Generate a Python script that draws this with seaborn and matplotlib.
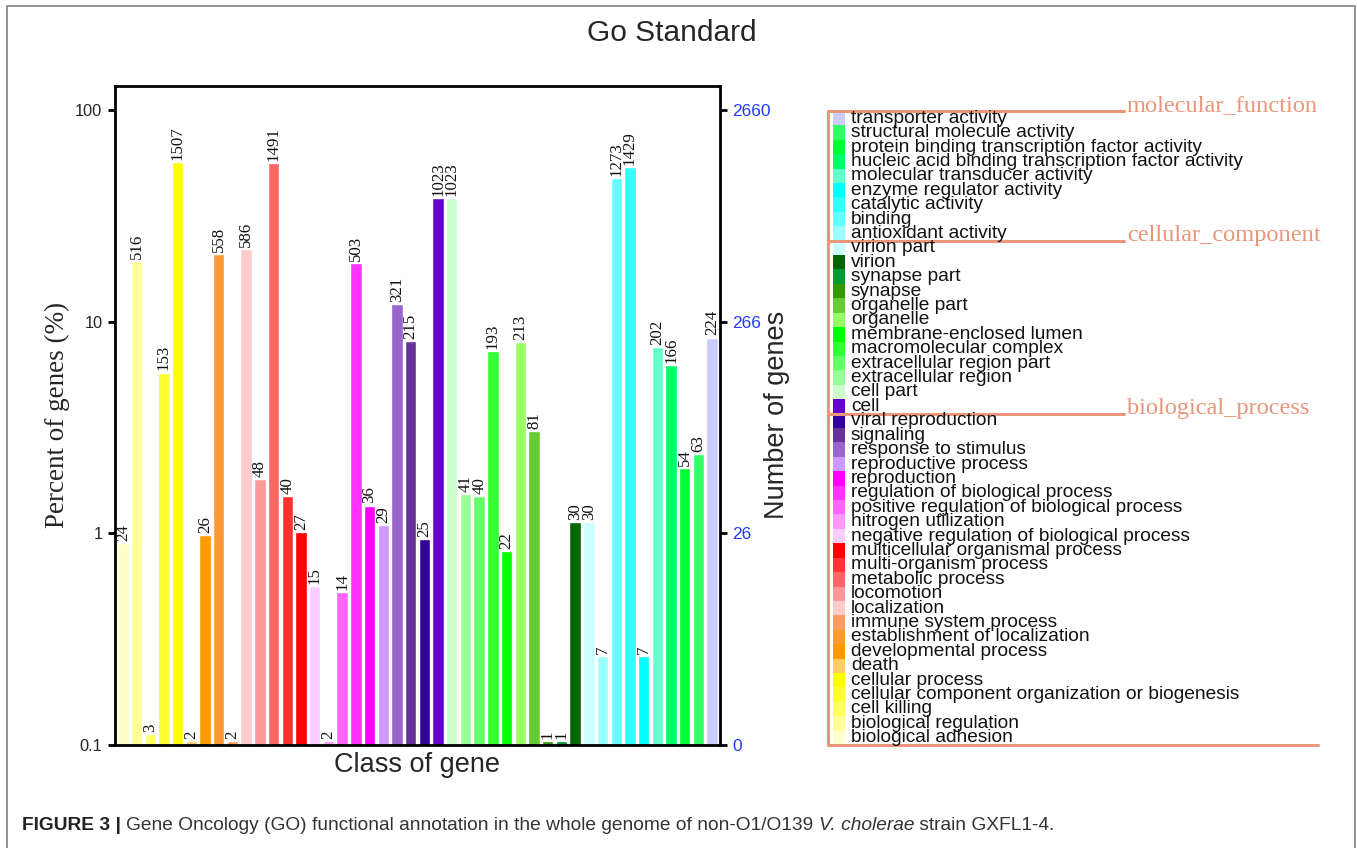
import numpy as np
import pandas as pd
import matplotlib
matplotlib.use("Agg")
import matplotlib.pyplot as plt
import seaborn as sns
from matplotlib.lines import Line2D
from matplotlib.ticker import NullLocator, FixedLocator, FixedFormatter

# GO classes, in plotting order (left to right / legend bottom to top)
categories = [
    "biological adhesion", "biological regulation", "cell killing",
    "cellular component organization or biogenesis", "cellular process", "death",
    "developmental process", "establishment of localization", "immune system process",
    "localization", "locomotion", "metabolic process", "multi-organism process",
    "multicellular organismal process", "negative regulation of biological process",
    "nitrogen utilization", "positive regulation of biological process",
    "regulation of biological process", "reproduction", "reproductive process",
    "response to stimulus", "signaling", "viral reproduction",
    "cell", "cell part", "extracellular region", "extracellular region part",
    "macromolecular complex", "membrane-enclosed lumen", "organelle", "organelle part",
    "synapse", "synapse part", "virion", "virion part",
    "antioxidant activity", "binding", "catalytic activity", "enzyme regulator activity",
    "molecular transducer activity", "nucleic acid binding transcription factor activity",
    "protein binding transcription factor activity", "structural molecule activity",
    "transporter activity",
]
gene_counts = [
    24, 516, 3, 153, 1507, 2, 26, 558, 2, 586, 48, 1491, 40, 27, 15, 2, 14, 503,
    36, 29, 321, 215, 25,
    1023, 1023, 41, 40, 193, 22, 213, 81, 1, 1, 30, 30,
    7, 1273, 1429, 7, 202, 166, 54, 63, 224,
]
bar_colors = [
    "#FFFFCC", "#FFFF99", "#FFFF66", "#FFFF33", "#FFFF00", "#FFCC66",
    "#FF9900", "#FF9933", "#FF9966", "#FFCCCC", "#FF9999", "#FF6666",
    "#FF3333", "#FF0000", "#FFCCFF", "#FF99FF", "#FF66FF", "#FF33FF",
    "#FF00FF", "#CC99FF", "#9966CC", "#663399", "#330099",
    "#6600CC", "#CCFFCC", "#99FF99", "#66FF66", "#33FF33", "#00FF00",
    "#99FF66", "#66CC33", "#339900", "#009933", "#006600", "#CCFFFF",
    "#99FFFF", "#66FFFF", "#33FFFF", "#00FFFF", "#66FFCC", "#00FF66",
    "#00FF33", "#33FF66", "#CCCCFF",
]
total_genes = 2660
percent_ticks = [0.1, 1, 10, 100]
percent_tick_labels = ["0.1", "1", "10", "100"]
count_tick_labels = ["0", "26", "266", "2660"]
ontology_groups = ["biological_process", "cellular_component", "molecular_function"]
group_sizes = [23, 12, 9]

W, H = 1357, 848
sns.set_style("white")
plt.rcParams["font.family"] = ["Liberation Sans", "DejaVu Sans"]
SERIF = ["Liberation Serif", "DejaVu Serif"]
SALMON = "#E9967A"
BLUE = "#1F3CFF"

fig = plt.figure(figsize=(W / 100, H / 100), dpi=100)


def px_rect(x0, y0, x1, y1):
    return [x0 / W, 1 - y1 / H, (x1 - x0) / W, (y1 - y0) / H]


def fx(x):
    return x / W


def fy(y):
    return 1 - y / H


# ---- main bar chart -------------------------------------------------------
ax = fig.add_axes(px_rect(115, 86, 720, 745))
ax.set_yscale("log")

percent = np.array(gene_counts) / total_genes * 100
# classes below the 0.1 % floor are drawn as a thin stub on the baseline
floor = 0.1045
shown = np.maximum(percent, floor)
df = pd.DataFrame({"category": categories, "percent": shown})

sns.barplot(data=df, x="category", y="percent", hue="category",
            order=categories, hue_order=categories, palette=bar_colors,
            saturation=1, width=0.83, legend=False, ax=ax)

ylim = (0.1, 130)
ax.set_ylim(*ylim)
ax.set_xlim(-0.57, len(categories) - 0.43)

for i, (val, n) in enumerate(zip(shown, gene_counts)):
    ax.annotate(str(n), (i, val), xytext=(0, 1.5), textcoords="offset points",
                rotation=90, ha="center", va="bottom", fontsize=12.2,
                family=SERIF, color="#111111")

ax.yaxis.set_major_locator(FixedLocator(percent_ticks))
ax.yaxis.set_major_formatter(FixedFormatter(percent_tick_labels))
ax.yaxis.set_minor_locator(NullLocator())
ax.set_xticks([])
ax.set_xlabel("")
ax.set_ylabel("")
ax.tick_params(axis="y", which="major", direction="out", length=5, width=2,
               labelsize=11.8, pad=4, left=True, color="black")
for sp in ax.spines.values():
    sp.set_visible(True)
    sp.set_linewidth(2)
    sp.set_color("black")

ax2 = ax.twinx()
ax2.set_yscale("log")
ax2.set_ylim(*ylim)
ax2.yaxis.set_major_locator(FixedLocator(percent_ticks))
ax2.yaxis.set_major_formatter(FixedFormatter(count_tick_labels))
ax2.yaxis.set_minor_locator(NullLocator())
ax2.tick_params(axis="y", which="major", direction="out", length=5, width=2,
                labelsize=12.5, pad=4, right=True, labelcolor=BLUE, color="black")
for sp in ax2.spines.values():
    sp.set_visible(False)

fig.text(fx(672), fy(33), "Go Standard", ha="center", va="center", fontsize=21.5)
fig.text(fx(417), fy(765), "Class of gene", ha="center", va="center", fontsize=19.5)
fig.text(fx(57), fy(415), "Percent of genes (%)", ha="center", va="center",
         rotation=90, fontsize=19.5, family=SERIF)
fig.text(fx(777), fy(415), "Number of genes", ha="center", va="center",
         rotation=90, fontsize=19.5)

# ---- colour key with ontology brackets -------------------------------------
lax = fig.add_axes(px_rect(828, 111, 1357, 745))
lax.set_xlim(828, 1357)
lax.set_ylim(0, len(categories))
lax.axis("off")
rows = np.arange(len(categories)) + 0.5
lax.barh(rows, width=12, left=833, height=1.0, color=bar_colors, linewidth=0)
for r, name in zip(rows, categories):
    lax.text(851, r, name, ha="left", va="center", fontsize=13.8, color="#111111")

bounds = np.cumsum(group_sizes)
lax.add_line(Line2D([828, 828], [0, len(categories)], color=SALMON, lw=2.2,
                    clip_on=False, solid_capstyle="butt"))
lax.add_line(Line2D([828, 1318], [0, 0], color=SALMON, lw=2.2, clip_on=False))
for b, label in zip(bounds, ontology_groups):
    lax.add_line(Line2D([828, 1124], [b, b], color=SALMON, lw=2.2, clip_on=False))
    lax.text(1127, b, label, ha="left", va="baseline", fontsize=17.6,
             family=SERIF, color=SALMON)

# ---- frame and caption -----------------------------------------------------
fig.add_artist(Line2D([fx(7), fx(7), fx(1355), fx(1355)],
                      [fy(900), fy(6), fy(6), fy(900)],
                      transform=fig.transFigure, color="#808080", lw=1.2))

caption_parts = [
    ("FIGURE 3 | ", "bold", "normal", "#222222"),
    ("Gene Oncology (GO) functional annotation in the whole genome of non-O1/O139 ",
     "normal", "normal", "#333333"),
    ("V. cholerae", "normal", "italic", "#333333"),
    (" strain GXFL1-4.", "normal", "normal", "#333333"),
]
fig.canvas.draw()
renderer = fig.canvas.get_renderer()
x_px = 22
for txt, weight, style, col in caption_parts:
    t = fig.text(fx(x_px), fy(826), txt, ha="left", va="center", fontsize=13.8,
                 weight=weight, style=style, color=col)
    bb = t.get_window_extent(renderer=renderer)
    x_px += bb.width

fig.savefig("out.png", dpi=100)
